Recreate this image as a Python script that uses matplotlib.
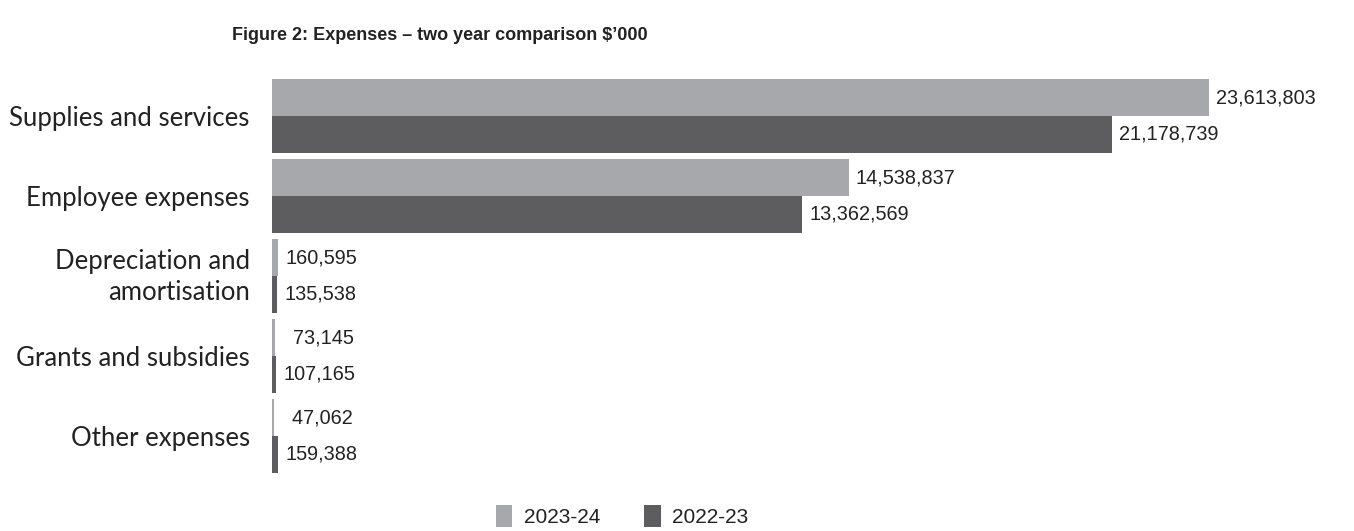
import matplotlib
matplotlib.use("Agg")
import matplotlib.pyplot as plt
from matplotlib.transforms import ScaledTranslation
import numpy as np

categories = ["Supplies and services", "Employee expenses", "Depreciation and\namortisation",
              "Grants and subsidies", "Other expenses"]
values_2324 = [23613803, 14538837, 160595, 73145, 47062]
values_2223 = [21178739, 13362569, 135538, 107165, 159388]
series_names = ["2023-24", "2022-23"]
title = "Figure 2: Expenses \u2013 two year comparison $\u2019000"

light = "#a7a8ab"
dark = "#5d5d5f"

fig = plt.figure(figsize=(13.54, 5.31), dpi=100)
ax = fig.add_axes([272 / 1354, 1 - 484 / 531, (1264 - 272) / 1354, 416 / 531])

y = np.arange(len(categories))
h = 0.46
b1 = ax.barh(y - h / 2, values_2324, height=h, color=light, label=series_names[0])
b2 = ax.barh(y + h / 2, values_2223, height=h, color=dark, label=series_names[1])

ax.set_xlim(0, 25e6)
ax.set_ylim(4.6, -0.6)
for s in ax.spines.values():
    s.set_visible(False)
ax.set_xticks([])
ax.set_yticks(y)
ax.set_yticklabels(categories, fontsize=18.5, family="Lato", color="#222222", ha="right",
                   multialignment="right", linespacing=1.35)
ax.tick_params(axis="y", length=0, pad=16)
# two-line label sits a little higher in the original
for lbl in ax.get_yticklabels():
    if "\n" in lbl.get_text():
        lbl.set_transform(lbl.get_transform() + ScaledTranslation(0, 5 / 100, fig.dpi_scale_trans))

for bars in (b1, b2):
    labels = [f"{int(v):,}".rjust(7, "\u2007") for v in bars.datavalues]
    ax.bar_label(bars, labels=labels, padding=5, fontsize=14.3, family="Liberation Sans",
                 color="#222222")

fig.text(232 / 1354, 1 - 35 / 531, title, fontsize=13, fontweight="bold",
         family=["Liberation Sans Narrow", "Liberation Sans"], color="#222222",
         ha="left", va="center")

leg = fig.legend(loc="upper center", bbox_to_anchor=(622 / 1354, 1 - 486 / 531), ncol=2,
                 frameon=False, prop={"family": "Liberation Sans", "size": 15},
                 handlelength=0.8, handleheight=1.3, handletextpad=0.55, columnspacing=2.1)
for t in leg.get_texts():
    t.set_color("#222222")

fig.savefig("out.png", dpi=100)
